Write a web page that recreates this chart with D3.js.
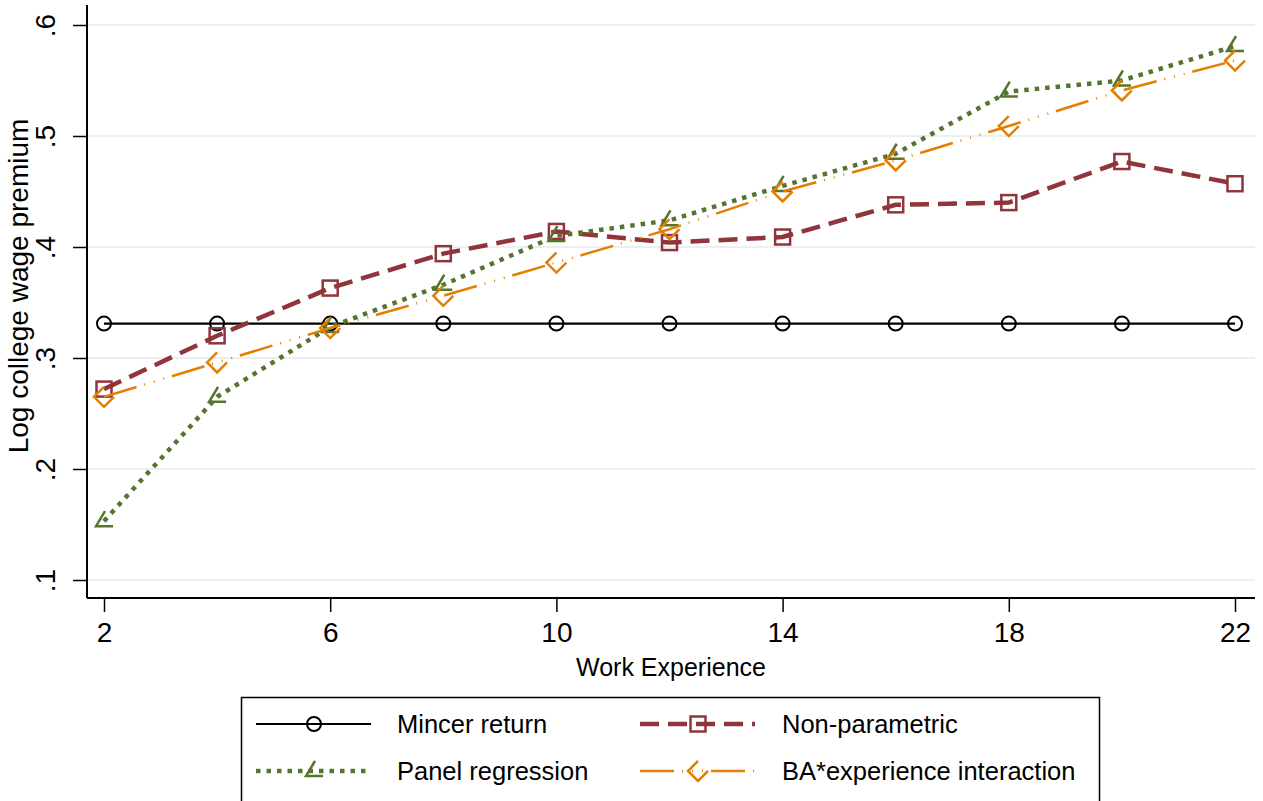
<!DOCTYPE html>
<html>
<head>
<meta charset="utf-8">
<script src="https://cdn.jsdelivr.net/npm/d3@7"></script>
<style>
  body { margin: 0; background: #fff; }
  svg { display: block; font-family: Arial, "Liberation Sans", Helvetica, sans-serif; }
</style>
</head>
<body>
<div id="chart"></div>
<script>
// data
var experience   = [2, 4, 6, 8, 10, 12, 14, 16, 18, 20, 22]
var mincer       = [0.331, 0.331, 0.331, 0.331, 0.331, 0.331, 0.331, 0.331, 0.331, 0.331, 0.331]
var nonParam     = [0.272, 0.320, 0.363, 0.394, 0.414, 0.404, 0.409, 0.438, 0.440, 0.477, 0.457]
var panelReg     = [0.153, 0.265, 0.328, 0.366, 0.410, 0.424, 0.455, 0.484, 0.540, 0.550, 0.581]
var baInteract   = [0.265, 0.296, 0.327, 0.356, 0.386, 0.416, 0.450, 0.478, 0.509, 0.541, 0.568]
var xTicks = [2, 6, 10, 14, 18, 22]
var yTicks = [0.1, 0.2, 0.3, 0.4, 0.5, 0.6]
var seriesNames = ["Mincer return", "Non-parametric", "Panel regression", "BA*experience interaction"]

var width = 1263, height = 801

var svg = d3.select("#chart")
    .append("svg")
    .attr("width", width)
    .attr("height", height)

// plot region
var plotLeft = 87, plotRight = 1255, plotTop = 5, plotBottom = 598

var x = d3.scaleLinear().domain([2, 22]).range([104, 1235])
var y = d3.scaleLinear().domain([0.1, 0.6]).range([580, 25])

// gridlines
svg.append("g")
    .selectAll("line")
    .data(yTicks)
    .enter()
    .append("line")
    .attr("x1", plotLeft)
    .attr("x2", plotRight)
    .attr("y1", d => y(d))
    .attr("y2", d => y(d))
    .attr("stroke", "#eaf0f2")
    .attr("stroke-width", 2)

// y axis
var yAxis = svg.append("g")
    .attr("transform", "translate(" + plotLeft + ",0)")
    .call(d3.axisLeft(y).tickValues(yTicks).tickSize(14).tickSizeOuter(0)
        .tickFormat(d => d3.format(".1f")(d).replace(/^0/, "")))
yAxis.select(".domain").remove()
yAxis.selectAll(".tick line").attr("stroke", "#000").attr("stroke-width", 1.5)
yAxis.selectAll(".tick text")
    .attr("fill", "#000")
    .style("font-size", "28px")
    .attr("x", 0).attr("y", 0).attr("dy", 0)
    .attr("text-anchor", "middle")
    .attr("transform", "translate(-32,0) rotate(-90)")

svg.append("line")
    .attr("x1", plotLeft).attr("x2", plotLeft)
    .attr("y1", plotTop).attr("y2", plotBottom)
    .attr("stroke", "#000").attr("stroke-width", 2)

// x axis
var xAxis = svg.append("g")
    .attr("transform", "translate(0," + plotBottom + ")")
    .call(d3.axisBottom(x).tickValues(xTicks).tickSize(14).tickSizeOuter(0))
xAxis.select(".domain").remove()
xAxis.selectAll(".tick line").attr("stroke", "#000").attr("stroke-width", 1.5)
xAxis.selectAll(".tick text")
    .attr("fill", "#000")
    .style("font-size", "28px")
    .attr("y", 44).attr("dy", 0)

svg.append("line")
    .attr("x1", plotLeft).attr("x2", plotRight)
    .attr("y1", plotBottom).attr("y2", plotBottom)
    .attr("stroke", "#000").attr("stroke-width", 2)

// axis titles
svg.append("text")
    .attr("x", (plotLeft + plotRight) / 2)
    .attr("y", 676)
    .attr("text-anchor", "middle")
    .style("font-size", "25px")
    .text("Work Experience")

svg.append("text")
    .attr("transform", "translate(28,286) rotate(-90)")
    .attr("text-anchor", "middle")
    .style("font-size", "28px")
    .text("Log college wage premium")

// marker shapes
function circleMark(g, color) {
    g.append("circle").attr("r", 7).attr("fill", "none")
        .attr("stroke", color).attr("stroke-width", 2)
}
function squareMark(g, color) {
    g.append("rect").attr("x", -7.5).attr("y", -7.5).attr("width", 15).attr("height", 15)
        .attr("fill", "none").attr("stroke", color).attr("stroke-width", 2.5)
}
function angleMark(g, color) {
    g.append("path").attr("d", "M1,-10 L-8,5 L9,5").attr("fill", "none")
        .attr("stroke", color).attr("stroke-width", 2.5)
}
function diamondMark(g, color) {
    g.append("path").attr("d", "M0,-10 L-10,0 L0,10 L10,0").attr("fill", "none")
        .attr("stroke", color).attr("stroke-width", 2.5)
}

var series = [
    {name: seriesNames[0], values: mincer,     color: "#000000", width: 2.2, dash: null,                    mark: circleMark},
    {name: seriesNames[1], values: nonParam,   color: "#90353b", width: 4.5, dash: "19,9",                  mark: squareMark},
    {name: seriesNames[2], values: panelReg,   color: "#55752f", width: 4.5, dash: "4.5,6",                 mark: angleMark},
    {name: seriesNames[3], values: baInteract, color: "#e37e00", width: 2.5, dash: "34,8,1,9,1,9,1,8",      mark: diamondMark}
]

var line = d3.line()
    .x(d => x(d[0]))
    .y(d => y(d[1]))

series.forEach(function(s) {
    var pts = experience.map((e, i) => [e, s.values[i]])
    svg.append("path")
        .datum(pts)
        .attr("d", line)
        .attr("fill", "none")
        .attr("stroke", s.color)
        .attr("stroke-width", s.width)
        .attr("stroke-dasharray", s.dash)
    pts.forEach(function(p) {
        var g = svg.append("g").attr("transform", "translate(" + x(p[0]) + "," + y(p[1]) + ")")
        s.mark(g, s.color)
    })
})

// legend
var legend = svg.append("g")
legend.append("rect")
    .attr("x", 241.5).attr("y", 697.5)
    .attr("width", 858).attr("height", 110)
    .attr("fill", "#fff").attr("stroke", "#000").attr("stroke-width", 1.5)

var legendPos = [
    {lx: 256, ty: 724, tx: 397},
    {lx: 640, ty: 724, tx: 782},
    {lx: 256, ty: 771, tx: 397},
    {lx: 640, ty: 771, tx: 782}
]
series.forEach(function(s, i) {
    var p = legendPos[i]
    legend.append("line")
        .attr("x1", p.lx).attr("x2", p.lx + 115)
        .attr("y1", p.ty).attr("y2", p.ty)
        .attr("stroke", s.color)
        .attr("stroke-width", s.width)
        .attr("stroke-dasharray", s.dash)
    var g = legend.append("g").attr("transform", "translate(" + (p.lx + 58) + "," + p.ty + ")")
    s.mark(g, s.color)
    legend.append("text")
        .attr("x", p.tx).attr("y", p.ty + 9)
        .style("font-size", "25.5px")
        .text(s.name)
})
</script>
</body>
</html>
